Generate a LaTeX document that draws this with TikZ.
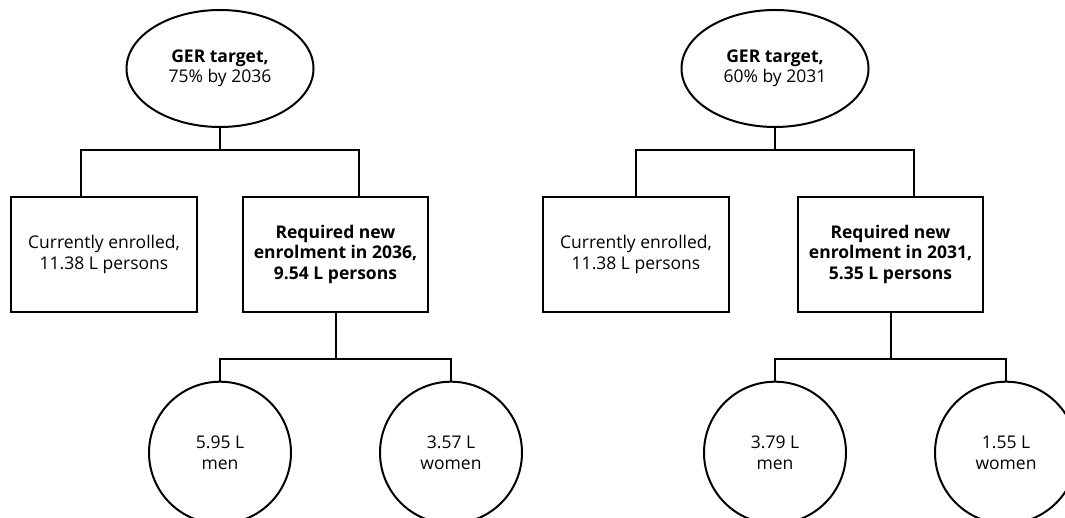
\documentclass[tikz,border=0pt]{standalone}
\usepackage{fontspec}
\setmainfont{Open Sans}
\usetikzlibrary{shapes.geometric,calc}
\tikzset{
  base/.style={draw=black, line width=2pt, align=center, inner sep=0pt, font=\fontsize{17.5}{20.5}\selectfont},
  goal/.style={base, ellipse, minimum width=187pt, minimum height=117pt},
  box/.style={base, rectangle, minimum width=185.5pt, minimum height=115.5pt},
  leaf/.style={base, circle, minimum size=142pt},
  link/.style={draw=black, line width=2pt}
}
\begin{document}
\begin{tikzpicture}[x=1pt,y=-1pt]
\useasboundingbox (0,0) rectangle (1065,518);
% left tree
\node[goal] (Ltop) at (220,68.5) {\textbf{GER target,}\\75\% by 2036};
\node[box] (Lb1) at (104,254.3) {Currently enrolled,\\11.38 L persons};
\node[box] (Lb2) at (335.5,254.3) {\textbf{Required new}\\\textbf{enrolment in 2036,}\\\textbf{9.54 L persons}};
\node[leaf] (Lc1) at (220,452.7) {5.95 L\\men};
\node[leaf] (Lc2) at (451,452.7) {3.57 L\\women};
\coordinate (Lj) at (220,150);
\coordinate (Lk) at (335.5,359);
\draw[link] (Ltop.south) -- (Lj);
\draw[link] ([xshift=-23pt]Lb1.north) |- (Lj) -| ([xshift=23pt]Lb2.north);
\draw[link] (Lb2.south) -- (Lk);
\draw[link] (Lc1.north) |- (Lk) -| (Lc2.north);
% right tree
\node[goal] (Rtop) at (775,68.5) {\textbf{GER target,}\\60\% by 2031};
\node[box] (Rb1) at (636,254.3) {Currently enrolled,\\11.38 L persons};
\node[box] (Rb2) at (890.5,254.3) {\textbf{Required new}\\\textbf{enrolment in 2031,}\\\textbf{5.35 L persons}};
\node[leaf] (Rc1) at (775,452.7) {3.79 L\\men};
\node[leaf] (Rc2) at (1006,452.7) {1.55 L\\women};
\coordinate (Rj) at (775,150);
\coordinate (Rk) at (890.5,359);
\draw[link] (Rtop.south) -- (Rj);
\draw[link] (Rb1.north) |- (Rj) -| ([xshift=23.5pt]Rb2.north);
\draw[link] (Rb2.south) -- (Rk);
\draw[link] (Rc1.north) |- (Rk) -| (Rc2.north);
\end{tikzpicture}
\end{document}
